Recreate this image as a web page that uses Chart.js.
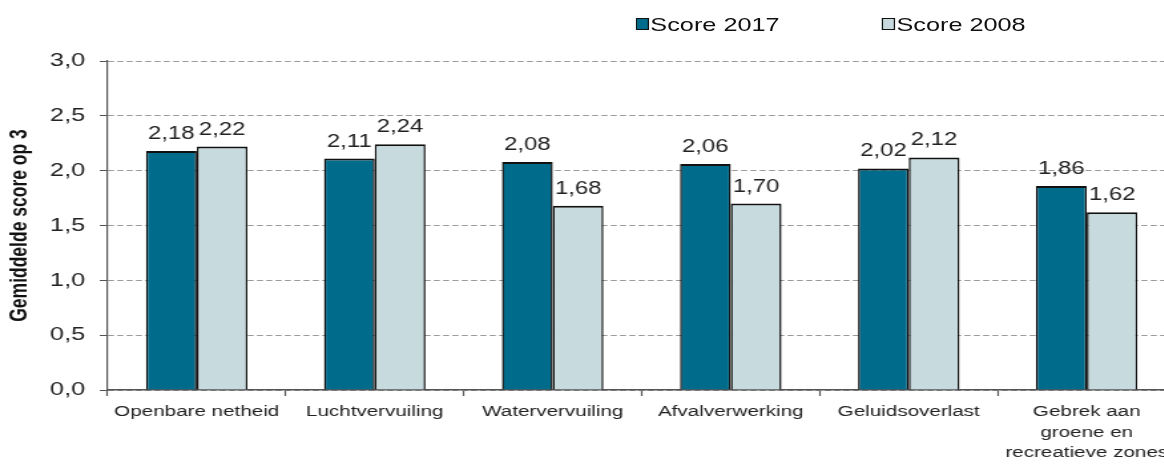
<!DOCTYPE html>
<html lang="nl">
<head>
    <meta charset="UTF-8">
    <title>Gemiddelde score op 3</title>
    <script src="https://cdn.jsdelivr.net/npm/chart.js"></script>
    <style>
        html, body { margin: 0; padding: 0; background: #fff; overflow: hidden; }
        body { width: 1164px; height: 471px; position: relative; font-family: "Liberation Sans", Arial, sans-serif; }
        /* het origineel is horizontaal uitgerekt, dus de hele grafiek ook */
        .stage { position: absolute; left: 0; top: 0; width: 887px; height: 471px; transform: scaleX(1.33); transform-origin: 0 0; }
        .chart-box { position: absolute; left: 0; top: 0; width: 887px; height: 471px; }
        .legend { position: absolute; top: 14px; left: 478px; font-size: 19px; color: #111; }
        .legend span.item { position: absolute; white-space: nowrap; line-height: 22px; }
        .legend i { display: inline-block; width: 8px; height: 10px; border: 1.5px solid #111; border-left-width: 1.2px; border-right-width: 1.2px; margin-right: 1px; vertical-align: 1px; }
    </style>
</head>
<body>

<div class="stage">
    <div class="chart-box"><canvas id="scoreChart"></canvas></div>
    <div class="legend">
        <span class="item" style="left:0"><i style="background:#006b8b"></i>Score 2017</span>
        <span class="item" style="left:185px"><i style="background:#c7dbdf"></i>Score 2008</span>
    </div>
</div>

<script>
    const categories = [
        'Openbare netheid',
        'Luchtvervuiling',
        'Watervervuiling',
        'Afvalverwerking',
        'Geluidsoverlast',
        ['Gebrek aan', 'groene en', 'recreatieve zones']
    ];
    const score2017 = [2.18, 2.11, 2.08, 2.06, 2.02, 1.86];
    const score2008 = [2.22, 2.24, 1.68, 1.70, 2.12, 1.62];
    const yTicks = [0, 0.5, 1.0, 1.5, 2.0, 2.5, 3.0];

    const komma = (v, d) => v.toFixed(d).replace('.', ',');

    // waarden boven de balken
    const valueLabels = {
        id: 'valueLabels',
        afterDatasetsDraw(chart) {
            const ctx = chart.ctx;
            ctx.save();
            ctx.font = '18px "Liberation Sans", Arial, sans-serif';
            ctx.fillStyle = '#222';
            ctx.textAlign = 'center';
            ctx.textBaseline = 'bottom';
            chart.data.datasets.forEach((ds, i) => {
                chart.getDatasetMeta(i).data.forEach((bar, j) => {
                    ctx.fillText(komma(ds.data[j], 2), bar.x, bar.y - 8);
                });
            });
            ctx.restore();
        }
    };

    const balkRand = { top: 2, left: 1.5, right: 1.5, bottom: 0 };

    new Chart(document.getElementById('scoreChart'), {
        type: 'bar',
        data: {
            labels: categories,
            datasets: [
                {
                    label: 'Score 2017',
                    data: score2017,
                    backgroundColor: '#006b8b',
                    borderColor: '#111',
                    borderWidth: balkRand,
                    borderSkipped: 'bottom'
                },
                {
                    label: 'Score 2008',
                    data: score2008,
                    backgroundColor: '#c7dbdf',
                    borderColor: '#111',
                    borderWidth: balkRand,
                    borderSkipped: 'bottom'
                }
            ]
        },
        options: {
            responsive: true,
            maintainAspectRatio: false,
            animation: false,
            layout: { padding: { top: 61, right: 3, bottom: 0, left: 0 } },
            datasets: { bar: { categoryPercentage: 0.57, barPercentage: 1.0 } },
            plugins: {
                legend: { display: false },
                tooltip: { enabled: false }
            },
            scales: {
                x: {
                    afterFit: s => { s.height = 81; },
                    grid: { drawOnChartArea: false, drawTicks: true, tickLength: 6, tickColor: '#555', tickWidth: 1.2, offset: true },
                    border: { color: '#555', width: 1.5 },
                    ticks: {
                        padding: 6,
                        color: '#222',
                        font: { family: '"Liberation Sans", Arial, sans-serif', size: 15.5, lineHeight: 1.3 },
                        maxRotation: 0,
                        autoSkip: false
                    }
                },
                y: {
                    min: 0,
                    max: 3,
                    afterFit: s => { s.width = 81; },
                    afterBuildTicks: s => { s.ticks = yTicks.map(v => ({ value: v })); },
                    grid: { color: '#9a9a9a', tickColor: '#555', tickLength: 6, lineWidth: 1 },
                    border: { color: '#555', width: 1.2, dash: [4.5, 2.5] },
                    ticks: {
                        padding: 11,
                        color: '#222',
                        font: { family: '"Liberation Sans", Arial, sans-serif', size: 19 },
                        callback: v => komma(v, 1)
                    },
                    title: {
                        display: true,
                        text: 'Gemiddelde score op 3',
                        color: '#111',
                        padding: { top: 5, bottom: 0 },
                        font: { family: '"Liberation Sans", Arial, sans-serif', size: 17.5, weight: 'bold' }
                    }
                }
            }
        },
        plugins: [valueLabels]
    });
</script>

</body>
</html>
